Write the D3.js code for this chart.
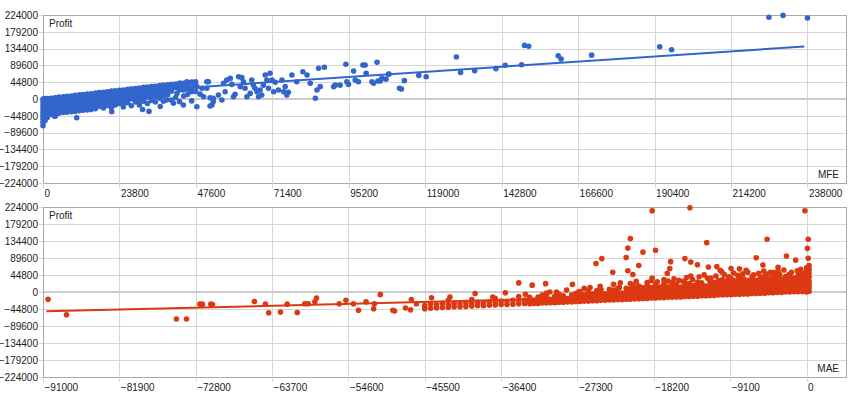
<!DOCTYPE html>
<html><head><meta charset="utf-8">
<script src="https://cdn.jsdelivr.net/npm/d3@7"></script>
<style>body{margin:0;background:#fff}svg{display:block;font-family:"Liberation Sans",Arial,sans-serif}</style>
</head><body><svg id="c" width="860" height="400"></svg>
<script>
// ---- data (values in thousands) ----
const profitTicks = [-224000,-179200,-134400,-89600,-44800,0,44800,89600,134400,179200,224000];
const mfeTicks = [0,23800,47600,71400,95200,119000,142800,166600,190400,214200,238000];
const maeTicks = [-91000,-81900,-72800,-63700,-54600,-45500,-36400,-27300,-18200,-9100,0];
const mfeDomain = [0,250000];
const maeDomain = [-91000,4700];

// dense columns: [mfe, profit, profit, ...]
const mfeDense = [
[0,0,-8,-17,-26,-35,-44,-53,-62,-71],[0.6,1,-12,-30,-48,-58],[1.3,1,-7,-16,-25,-34,-42,-50],
[2.5,2,-6,-15,-24,-33,-41],[3.8,3,-5,-14,-23,-32,-39,-46],[5,5,-4,-13,-22,-31,-38],
[6.3,6,-3,-12,-21,-30,-36],[7.5,7,-2,-11,-20,-29,-35],[8.8,8,-1,-10,-19,-28,-34],
[10,10,1,-8,-17,-26,-33],[11.3,11,2,-7,-16,-25,-31],[12.5,12,3,-6,-15,-24,-30],
[13.8,13,4,-5,-14,-23,-29],[15,14,5,-4,-13,-22,-28],[16.3,16,7,-2,-11,-20,-26],
[17.5,17,8,-1,-10,-19],[18.8,18,9,0,-9,-18,-24],[20,19,10,1,-8,-17],[21.3,21,12,3,-6,-15,-23],
[22.5,22,13,4,-5,-16],[23.8,23,14,5,-4,-12],[25,24,15,6,-3,-12,-21],[26.3,26,17,8,-1,-10],
[27.5,27,18,9,0,-18],[28.8,28,19,10,1,-8],[30,29,20,11,2,-7,-16],[31.3,31,22,13,4,-6],
[32.5,32,23,14,5,-12],[33.8,33,24,15,6,-4],[35,34,25,16,7,-8],[36.3,36,27,18,2],[37.5,37,28,19,9,-6],
[38.8,38,29,20,11],[40,39,30,21,-3],[41.3,40,31,4],[42.5,42,33,24,-7],[43.8,42,34,8],
[45,44,35,26,12],[46.3,45,30,-5],[47.5,46,38,20]
];
const mfeScatter = [
[3.5,-45],[10.5,-50],[21.4,-34],[31,-28],[33,-33],[36.5,-20],[36.5,10.7],[38.5,-2.7],
[40.6,37],[42.7,42],[44.8,46],[46.8,42],[47.9,33],[51,46],[41.7,15],[43.7,24],[46.3,19.5],[48.9,13],
[53,2],[40.6,-11.5],[43.7,-16],[47.9,-20.5],[52,-18.7],
[51.5,46],[51,28.5],[49.5,28.5],[50,6],[52,3.5],[53,-7],[52.6,-16],[54.6,10.7],[55.7,-2.7],[56.7,19.5],
[56.2,41.8],[57.2,50.7],[58.3,55],[58.8,39],[59.3,6],[59.8,12.5],[60.9,59.5],[61.9,57],[61.4,33],
[62.4,46],[62.9,28.5],[63.5,6],[64.5,15],[65,50.7],[65.5,37],[66,28.5],[66.6,19.5],[67.6,24],
[68.1,10.7],[67.1,6],[69.2,64],[70.7,68.5],[69.7,50.7],[71.3,50.7],[72.3,44.5],[68.6,37],[70.2,28.5],
[71.8,19.5],[73.3,24],[74.4,50.7],[74.9,19.5],[75.9,10.7],[76.4,17.8],[77.5,64],[79,46],[75.4,33],
[80.9,72.8],[82.2,64],[83.2,41.8],[84.8,2],[85.3,24],[85.8,82],[86.3,33],[87.6,84.5],[90.5,33],[91,37],
[94.3,92.5],[92.5,37],[94.6,46],[95.1,39],[96.7,74.7],[97.2,50.7],[98.2,46],[99.6,90.7],[100.3,90.7],
[100.6,68.5],[102.4,46],[102.9,41.8],[104.3,48],[104,98],[105.5,55],[107.6,66],[111,28.5],
[111.6,26.7],[105,48],[106.8,53],[107.7,66.7],[112.5,49],[117,63],[119.3,59.5],[128.7,112],[130,71],
[134.4,75.5],[141,81],[143.9,90],[149,91.5],[149.9,143],[151.2,140.5],[160.4,115.5],[161.3,106.7],
[170.8,117],[192,139.5],[195.7,131.5],[226,218],[230.4,223],[238,216]
];
// dense columns: [mae, profit, profit, ...]
const maeDense = [
[-45.5,-44,-36],[-44.8,-43,-31],[-44.1,-42,-34],[-43.4,-41,-30],[-42.7,-40,-33,-22],[-42,-39,-30],
[-41.3,-39,-31],[-40.6,-38,-28],[-39.9,-37,-30,-20],[-39.2,-36,-27],[-38.5,-36,-29],[-37.8,-35,-26],
[-37.1,-34,-27,-17],[-36.4,-33,-24],[-35.7,-33,-25],[-35,-32,-22],[-34.3,-31,-24,-12],[-33.6,-30,-21],
[-33,-31,-23,-14],[-32.5,-30,-21],[-32,-30,-22,-13],[-31.5,-29,-20,-8],[-31,-29,-21,-12],[-30.5,-28,-19],
[-30,-28,-20,-11],[-29.5,-27,-18,-6],[-29,-27,-19,-10],[-28.5,-26,-17],[-28,-26,-18,-8],[-27.5,-25,-16,-4],
[-27,-25,-17,-8,1],[-26.5,-24,-15,-6],[-26,-24,-16,-7,3],[-25.5,-23,-14,-5],[-25,-23,-15,-6,4],
[-24.5,-22,-13,-4,6],[-24,-22,-14,-5],[-23.5,-21,-12,-3,7],[-23,-21,-13,-4,5],[-22.5,-20,-11,-2,9],
[-22,-20,-12,-3],[-21.5,-19,-10,-1,10],[-21,-19,-11,-2,8],[-20.5,-18,-9,0,12],
[-20,-18,-10,-1,8,16],[-19.5,-17,-8,1,11],[-19,-17,-9,0,9,18],[-18.5,-16,-7,2,12],[-18,-16,-8,1,10,20],
[-17.5,-15,-6,3,13],[-17,-15,-7,2,11,22],[-16.5,-14,-5,4,14],[-16,-14,-6,3,12,24],[-15.5,-13,-4,5,15,21],
[-15,-13,-5,4,13],[-14.5,-12,-3,6,16,25],[-14,-12,-4,5,14,22],[-13.5,-11,-2,7,17],[-13,-11,-3,6,15,26],
[-12.5,-10,-1,8,18,24],[-12,-10,-2,7,16],[-11.5,-9,0,9,19,28],[-11,-9,-1,8,17,25],[-10.5,-8,1,10,20,30],
[-10,-8,0,9,18,27,33],[-9.5,-7,2,11,20,29],[-9,-7,1,10,19,28,36],[-8.5,-6,3,12,21,30],
[-8,-6,2,11,20,29,38],[-7.5,-5,4,13,22,31,35],[-7,-5,3,12,21,30],[-6.5,-4,5,14,23,32,40],
[-6,-4,4,13,22,31],[-5.5,-3,6,15,24,33,39],[-5,-3,5,14,23,32,42],[-4.5,-2,7,16,25,34],
[-4,-2,6,15,24,33,40],[-3.5,-1,8,17,26,35,43],[-3,-1,7,16,25,34],[-2.5,0,9,18,27,36,41],
[-2,0,8,17,26,35,44],[-1.5,1,10,19,28,37],[-1,1,9,18,27,36,45],[-0.5,1,10,19,28,37,46],
[0,0,9,18,27,36,45,55,64],[0.3,2,11,20,29,40,50,60,70]
];
const maeScatter = [
[-90.4,-19],[-88.2,-60],[-75.1,-71],[-73.9,-71],[-72.3,-32],[-72,-32],[-71,-32],[-70.8,-33],
[-65.8,-25],[-64.5,-32],[-64.1,-55],[-62.7,-53],[-61.9,-32],[-60.7,-54],
[-59.8,-31],[-59.4,-31],[-58.6,-26],[-58.4,-16],[-55.7,-31],[-54.9,-22],[-54,-31],[-53.4,-48],
[-52.5,-26],[-51.6,-44],[-51.5,-31],[-50.8,-7],[-49.3,-48],[-49.1,-50],[-47.8,-42],[-47.2,-47],
[-47.1,-20],[-46.5,-31],[-44.7,-15],[-42.5,-13],[-39.5,-4],[-37.4,-13],[-35.9,-2],[-34.3,24],
[-32.7,18],[-31.1,22],[-30.6,0],[-27.9,20],[-27.2,0],
[-25.1,75],[-24.4,88],[-23.1,52],[-22.3,12],[-21.5,91],[-21.3,116],[-21,141],[-21.3,56],[-20.7,46],
[-20,70],[-19.5,105],[-20.7,18],[-19.7,12],[-18.4,214],[-18,110],[-18.4,37],[-16.6,49],[-16.3,62],
[-16.2,80],[-14.7,28],[-14.5,88],[-13.9,222],[-13.8,79],[-13.8,42],[-13,72],[-11.9,130],[-11.7,66],
[-10.7,67],[-10.3,57],[-10.1,53],[-11.8,36],[-9,62],[-8,61],[-7.2,57],[-6,90],[-5.2,71],[-4.7,139],
[-4.3,52],[-3.4,65],[-3.4,55],[-2.4,95],[-2.1,46],[-1.3,84],[-0.5,50],[-0.2,214],[0.2,139],[0.1,115],[0.2,89],
[-19,25],[-18.5,30],[-17.8,27],[-17,33],[-16.5,29],[-15.8,35],[-15.2,31],[-14.3,38],[-13.6,33],
[-12.8,40],[-12.2,45],[-11.4,37],[-10.8,42],[-9.8,46],[-9.3,40],[-8.7,50],[-8.2,44],[-7.6,48],
[-7,52],[-6.3,45],[-5.7,49],[-5.1,55],[-4.6,47],[-3.9,51],[-3.2,46],[-2.7,58],[-1.8,52],[-1.1,56],
[-0.7,60],[-23,20],[-22.2,24],[-21,22],[-20.3,28],[-25.8,12],[-24.6,15],[-26.5,10],[-28.6,5],
[-29.8,0],[-31,-3],[-33.5,-6]
];
// trend lines (endpoints, in value units)
const mfeTrend = [[0,4000],[237000,140000]];
const maeTrend = [[-90600,-51000],[300,-1000]];

const K = 1000;
function expand(dense, scatter){
  const pts = [];
  dense.forEach(([x,...ys]) => ys.forEach(y => pts.push([x*K, y*K])));
  scatter.forEach(([x,y]) => pts.push([x*K, y*K]));
  return pts;
}

const svg = d3.select('#c');
svg.append('rect').attr('width',860).attr('height',400).attr('fill','#fff');
const L = 43, R = 846;
const FONT = '"Liberation Sans",Arial,sans-serif';

function panel(top, bottom, xDomain, xTicks, points, trend, color, xName){
  const x = d3.scaleLinear().domain(xDomain).range([L, R]);
  const y = d3.scaleLinear().domain([-224000,224000]).range([bottom, top]);
  const g = svg.append('g');
  g.append('g').attr('transform',`translate(${L},0)`)
    .call(d3.axisLeft(y).tickValues(profitTicks).tickSize(-(R-L)).tickFormat(''))
    .call(s=>{s.select('.domain').remove(); s.selectAll('line').attr('stroke','#d6d6d6').attr('shape-rendering','crispEdges');});
  g.append('g').attr('transform',`translate(0,${bottom})`)
    .call(d3.axisBottom(x).tickValues(xTicks).tickSize(-(bottom-top)).tickFormat(''))
    .call(s=>{s.select('.domain').remove(); s.selectAll('line').attr('stroke','#d6d6d6').attr('shape-rendering','crispEdges');});
  g.append('line').attr('x1',L).attr('x2',R).attr('y1',y(0)).attr('y2',y(0))
    .attr('stroke','#cccccc').attr('stroke-width',2);
  g.append('rect').attr('x',L).attr('y',top).attr('width',R-L).attr('height',bottom-top)
    .attr('fill','none').attr('stroke','#aaaaaa').attr('shape-rendering','crispEdges');
  g.append('g').attr('transform',`translate(${L},0)`)
    .call(d3.axisLeft(y).tickValues(profitTicks).tickSize(4).tickPadding(1).tickFormat(d3.format('d')))
    .call(s=>{s.select('.domain').remove();
      s.selectAll('line').attr('stroke','#d6d6d6').attr('shape-rendering','crispEdges');
      s.selectAll('text').attr('fill','#222').style('font-size','10px').style('font-family',FONT);});
  g.append('g').attr('transform',`translate(0,${bottom})`)
    .call(d3.axisBottom(x).tickValues(xTicks).tickSize(5).tickPadding(2).tickFormat(d3.format('d')))
    .call(s=>{s.select('.domain').remove();
      s.selectAll('line').attr('stroke','#d6d6d6').attr('shape-rendering','crispEdges');
      s.selectAll('text').attr('text-anchor','start').attr('x',1).attr('fill','#222')
       .style('font-size','10px').style('font-family',FONT);});
  g.append('g').selectAll('circle').data(points).join('circle')
    .attr('cx',d=>x(d[0])).attr('cy',d=>y(d[1])).attr('r',2.8).attr('fill',color);
  g.append('path').datum(trend)
    .attr('d', d3.line().x(d=>x(d[0])).y(d=>y(d[1])))
    .attr('fill','none').attr('stroke',color).attr('stroke-width',2);
  g.append('text').attr('x',L+6).attr('y',top+12).text('Profit')
    .attr('fill','#222').style('font-size','10px');
  g.append('text').attr('x',R-7).attr('y',bottom-5).attr('text-anchor','end').text(xName)
    .attr('fill','#222').style('font-size','10px');
}

panel(15, 183, mfeDomain, mfeTicks, expand(mfeDense, mfeScatter), mfeTrend, '#3366cc', 'MFE');
panel(207, 377, maeDomain, maeTicks, expand(maeDense, maeScatter), maeTrend, '#dc3912', 'MAE');
</script>
</body></html>
